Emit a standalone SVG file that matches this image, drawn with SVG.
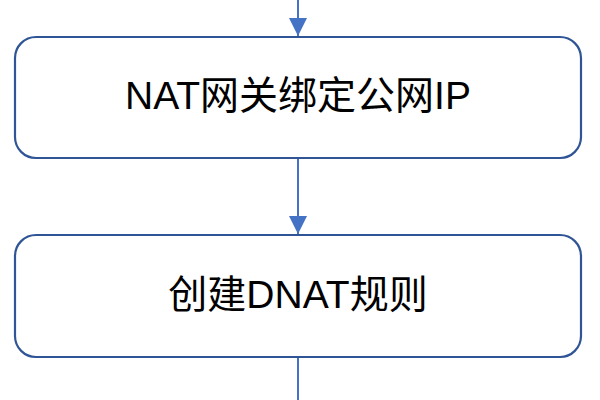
<svg xmlns="http://www.w3.org/2000/svg" width="600" height="400" viewBox="0 0 600 400">
<style>
.box{fill:#fff;stroke:#2f5597;stroke-width:2.2}
.lbl{font-family:"Liberation Sans","Noto Sans CJK SC",sans-serif;font-size:39px;fill:#000;text-anchor:middle}
.conn{stroke:#4472c4;stroke-width:2;fill:none}
</style>
<defs>
<marker id="ah" markerUnits="userSpaceOnUse" markerWidth="18" markerHeight="19" refX="18" refY="9" orient="auto">
<path d="M0,0 L18,9 L0,18 Z" fill="#4472c4"/>
</marker>
</defs>
<rect width="600" height="400" fill="#fff"/>
<g id="connectors">
<line class="conn" x1="298" y1="0" x2="298" y2="36" marker-end="url(#ah)"/>
<line class="conn" x1="298" y1="158" x2="298" y2="234" marker-end="url(#ah)"/>
<line class="conn" x1="298" y1="357" x2="298" y2="400"/>
</g>
<g id="node1">
<rect class="box" x="15" y="37" width="566" height="121" rx="21"/>
<text class="lbl" x="298" y="109">NAT网关绑定公网IP</text>
</g>
<g id="node2">
<rect class="box" x="15" y="235" width="566" height="122" rx="21"/>
<text class="lbl" x="298" y="308">创建DNAT规则</text>
</g>
</svg>
